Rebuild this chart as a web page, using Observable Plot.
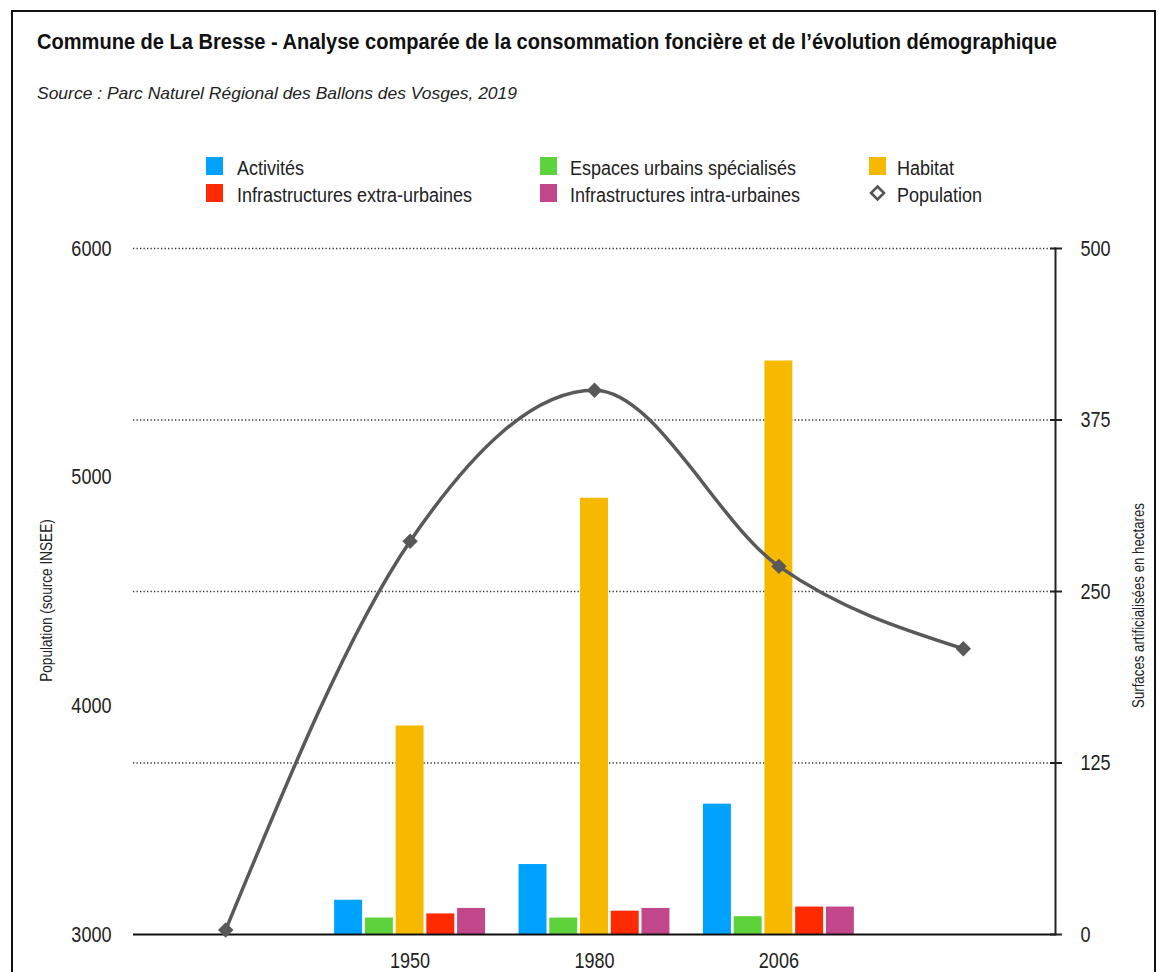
<!DOCTYPE html>
<html>
<head>
<meta charset="utf-8">
<script src="https://cdn.jsdelivr.net/npm/d3@7"></script>
<script src="https://cdn.jsdelivr.net/npm/@observablehq/plot@0.6"></script>
<style>
  body { margin:0; background:#fff; width:1158px; height:972px; overflow:hidden; position:relative;
         font-family:"Liberation Sans","Arial",sans-serif; color:#111; }
  #frame { position:absolute; left:11px; top:10px; width:1145px; height:1000px; border:2px solid #111; box-sizing:border-box; }
  .fit { position:absolute; white-space:nowrap; transform-origin:0 50%; line-height:1; }
  #title { left:37px; top:31px; font-weight:bold; font-size:22px; color:#111; }
  #subtitle { left:37px; top:85px; font-style:italic; font-size:17px; color:#222; }
  .sw { position:absolute; width:17px; height:18px; }
  .lt { position:absolute; white-space:nowrap; font-size:20px; line-height:1; color:#222; transform:scaleX(0.9); transform-origin:0 50%; }
  .vt { position:absolute; white-space:nowrap; font-size:17px; line-height:1; color:#222; transform-origin:50% 50%; }
  #chart { position:absolute; left:0; top:220px; }
</style>
</head>
<body>
<div id="frame"></div>
<div id="title" class="fit" data-w="1020">Commune de La Bresse - Analyse comparée de la consommation foncière et de l’évolution démographique</div>
<div id="subtitle" class="fit" data-w="480">Source : Parc Naturel Régional des Ballons des Vosges, 2019</div>
<div id="legend"></div>
<div id="chart"></div>
<div id="leftTitle" class="vt"></div>
<div id="rightTitle" class="vt"></div>
<script>
// ---- data ----
const periodKeys = ["P0", "P1", "P2", "P3", "P4"];
const periodLabels = ["", "1950", "1980", "2006", ""];
const population = [3020, 4720, 5380, 4610, 4250];

const seriesNames = ["Activités", "Espaces urbains spécialisés", "Habitat",
                     "Infrastructures extra-urbaines", "Infrastructures intra-urbaines"];
const seriesColors = ["#00a2ff", "#5cd33a", "#f7b900", "#ff2a00", "#c1478a"];
const surfacePeriods = ["P1", "P2", "P3"];
const activites = [25, 51, 95];
const espacesUrbains = [12, 12, 13];
const habitat = [152, 318, 418];
const infraExtra = [15, 17, 20];
const infraIntra = [19, 19, 20];

const popTicks = [3000, 4000, 5000, 6000];
const surfTicks = [0, 125, 250, 375, 500];
const popLabel = "Population";
const leftTitle = "Population (source INSEE)";
const rightTitle = "Surfaces artificialisées  en hectares";

// ---- build tables ----
const seriesValues = [activites, espacesUrbains, habitat, infraExtra, infraIntra];
const slots = [];
periodKeys.forEach((p, i) => {
  seriesNames.forEach((s, j) => slots.push(p + "|" + j));
  if (i < periodKeys.length - 1) slots.push(p + "|gap");
});
const bars = [];
surfacePeriods.forEach((p, k) => {
  seriesNames.forEach((s, j) => bars.push({slot: p + "|" + j, series: s, value: seriesValues[j][k]}));
});
const popMin = popTicks[0], popMax = popTicks[popTicks.length - 1];
const surfMax = surfTicks[surfTicks.length - 1];
const popToHa = v => (v - popMin) * surfMax / (popMax - popMin);
const haToPop = h => String(Math.round(popMin + h * (popMax - popMin) / surfMax));
const centerSlot = p => p + "|2";
const popData = population.map((v, i) => ({slot: centerSlot(periodKeys[i]), ha: popToHa(v)}));
const xTickSlots = periodKeys.filter((p, i) => periodLabels[i] !== "").map(centerSlot);
const slotLabel = s => periodLabels[periodKeys.indexOf(s.split("|")[0])];

// ---- legend ----
const legend = document.getElementById("legend");
const legendItems = seriesNames.map((s, i) => ({name: s, color: seriesColors[i]})).concat([{name: popLabel, diamond: true}]);
const colX = [206, 540, 869];
const textOffset = [31, 30, 28];
const rowY = [157, 184];
legendItems.forEach((it, k) => {
  const c = k % 3, r = Math.floor(k / 3);
  const d = document.createElement("div");
  d.className = "sw";
  d.style.left = colX[c] + "px"; d.style.top = rowY[r] + "px";
  if (it.diamond) {
    d.innerHTML = '<svg width="18" height="18"><path d="M8.5 2.5 L15 9 L8.5 15.5 L2 9 Z" fill="none" stroke="#555" stroke-width="2.6"/></svg>';
  } else {
    d.style.background = it.color;
  }
  legend.appendChild(d);
  const t = document.createElement("div");
  t.className = "lt";
  t.textContent = it.name;
  t.style.left = (colX[c] + textOffset[c]) + "px";
  t.style.top = (rowY[r] + 1) + "px";
  legend.appendChild(t);
});

// ---- chart ----
const font = '"Liberation Sans","Arial",sans-serif';
const chart = Plot.plot({
  width: 1158, height: 752,
  marginTop: 28, marginBottom: 38, marginLeft: 133, marginRight: 103,
  style: {fontFamily: font, fontSize: "22px", color: "#222", background: "transparent", overflow: "visible"},
  x: {type: "band", domain: slots, paddingInner: 0.09, paddingOuter: 0.545, align: 0.5, round: false},
  y: {domain: [0, surfMax]},
  color: {domain: seriesNames, range: seriesColors},
  marks: [
    Plot.ruleY(surfTicks.filter(t => t > 0), {stroke: "#333", strokeWidth: 1.3, strokeDasharray: "1.3,2.2"}),
    Plot.barY(bars, {x: "slot", y: "value", fill: "series"}),
    Plot.ruleY([0], {stroke: "#111", strokeWidth: 2}),
    Plot.frame({anchor: "right", stroke: "#222", strokeWidth: 2}),
    Plot.axisY(surfTicks, {anchor: "right", tickSize: 6, tickPadding: 19, stroke: "#222", strokeWidth: 2, label: null}),
    Plot.axisY(surfTicks, {anchor: "right", tickSize: 6, dx: -6, tickFormat: () => "", stroke: "#222", strokeWidth: 2, label: null}),
    Plot.axisY(popTicks.map(popToHa), {anchor: "left", tickSize: 0, tickPadding: 22, tickFormat: haToPop, label: null}),
    Plot.axisX(xTickSlots, {anchor: "bottom", tickSize: 0, tickPadding: 18, tickFormat: slotLabel, label: null}),
    Plot.line(popData, {x: "slot", y: "ha", stroke: "#595959", strokeWidth: 3.5, curve: "monotone-x"}),
    Plot.dot(popData, {x: "slot", y: "ha", symbol: "diamond2", r: 6, fill: "#595959", stroke: "#595959"})
  ]
});
document.getElementById("chart").appendChild(chart);

// condense tick labels (narrow face look)
chart.querySelectorAll('g[aria-label$="tick label"] text').forEach(t => {
  const x = +(t.getAttribute("x") || 0);
  const old = t.getAttribute("transform") || "";
  t.setAttribute("transform", `${old} translate(${x},0) scale(0.82,1) translate(${-x},0)`);
});

// rotated axis titles
function placeVertical(id, text, cx, cy, scale) {
  const el = document.getElementById(id);
  el.textContent = text;
  const r = el.getBoundingClientRect();
  el.style.left = (cx - r.width / 2) + "px";
  el.style.top = (cy - r.height / 2) + "px";
  el.style.transform = `rotate(-90deg) scaleX(${scale})`;
}
placeVertical("leftTitle", leftTitle, 47, 600, 0.8);
placeVertical("rightTitle", rightTitle, 1138, 605, 0.78);

// fit header widths
document.querySelectorAll(".fit").forEach(el => {
  const w = el.getBoundingClientRect().width;
  const target = +el.dataset.w;
  if (w > 0) el.style.transform = `scaleX(${target / w})`;
});
</script>
</body>
</html>
